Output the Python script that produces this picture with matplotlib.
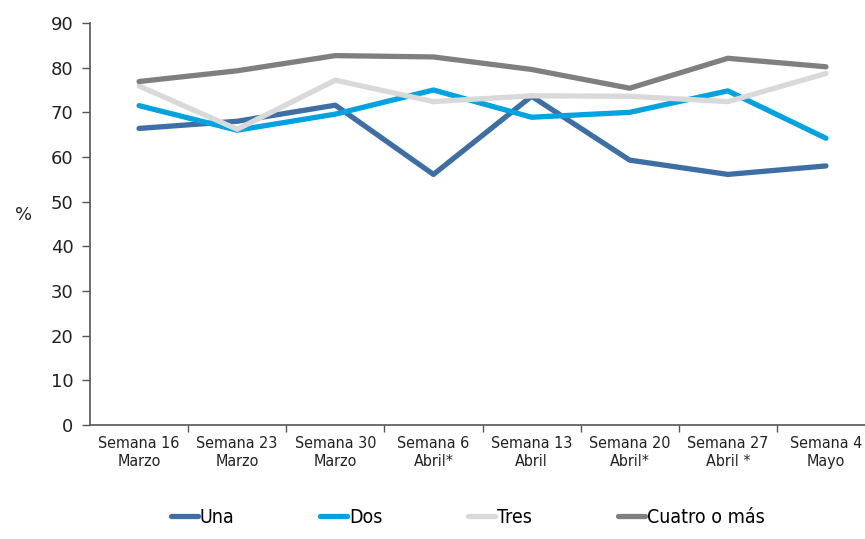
import matplotlib
matplotlib.use("Agg")
import matplotlib.pyplot as plt
import numpy as np

# fuentes: una estrecha para el eje x si existe
plt.rcParams['font.family'] = ['DejaVu Sans']
plt.rcParams['axes.unicode_minus'] = False

semanas = ['Semana 16\nMarzo', 'Semana 23\nMarzo', 'Semana 30\nMarzo', 'Semana 6\nAbril*',
           'Semana 13\nAbril', 'Semana 20\nAbril*', 'Semana 27\nAbril *', 'Semana 4\nMayo']

una = [66.4, 68.0, 71.6, 56.1, 73.6, 59.3, 56.1, 58.0]
dos = [71.5, 66.0, 69.6, 75.0, 68.9, 70.0, 74.8, 64.2]
tres = [75.9, 66.2, 77.2, 72.4, 73.7, 73.6, 72.4, 78.7]
cuatro = [76.9, 79.3, 82.7, 82.4, 79.6, 75.4, 82.1, 80.2]

series = [
    ('Una', una, '#3D6FA5'),
    ('Dos', dos, '#00A3DF'),
    ('Tres', tres, '#D9D9D9'),
    ('Cuatro o más', cuatro, '#7F7F7F'),
]

fig = plt.figure(figsize=(8.65, 5.39), dpi=100)
ax = fig.add_axes([90 / 865, 114 / 539, 785 / 865, 402 / 539])

x = np.arange(len(semanas))
for nombre, vals, color in series:
    ax.plot(x, vals, color=color, linewidth=3.8, solid_capstyle='round', label=nombre)

ax.set_xlim(-0.5, len(semanas) - 0.5)
ax.set_ylim(0, 90)
ax.set_yticks(np.arange(0, 91, 10))

ax.set_xticks(x)
ax.set_xticklabels(semanas, fontsize=11.5, color='#222222', fontstretch='condensed')
ax.set_xticks(np.arange(0.5, len(semanas) - 1, 1), minor=True)
ax.tick_params(axis='x', which='major', length=0, pad=8)
ax.tick_params(axis='x', which='minor', length=5, width=1, color='#555555')
ax.tick_params(axis='y', length=6, width=1, color='#555555', labelsize=13,
               labelcolor='#222222', pad=6)

for s in ['top', 'right']:
    ax.spines[s].set_visible(False)
for s in ['left', 'bottom']:
    ax.spines[s].set_color('#555555')
    ax.spines[s].set_linewidth(1.2)

ax.set_ylabel('%', rotation=0, fontsize=13, color='#222222')
ax.yaxis.set_label_coords(-0.085, 0.5)

leg = fig.legend(loc='lower left', bbox_to_anchor=(153 / 865, -0.01), ncol=4, frameon=False,
                 prop={'size': 14, 'stretch': 'condensed'}, handlelength=1.4,
                 handletextpad=0.1, columnspacing=4.4)

fig.savefig('out.png', dpi=100)
plt.close(fig)
